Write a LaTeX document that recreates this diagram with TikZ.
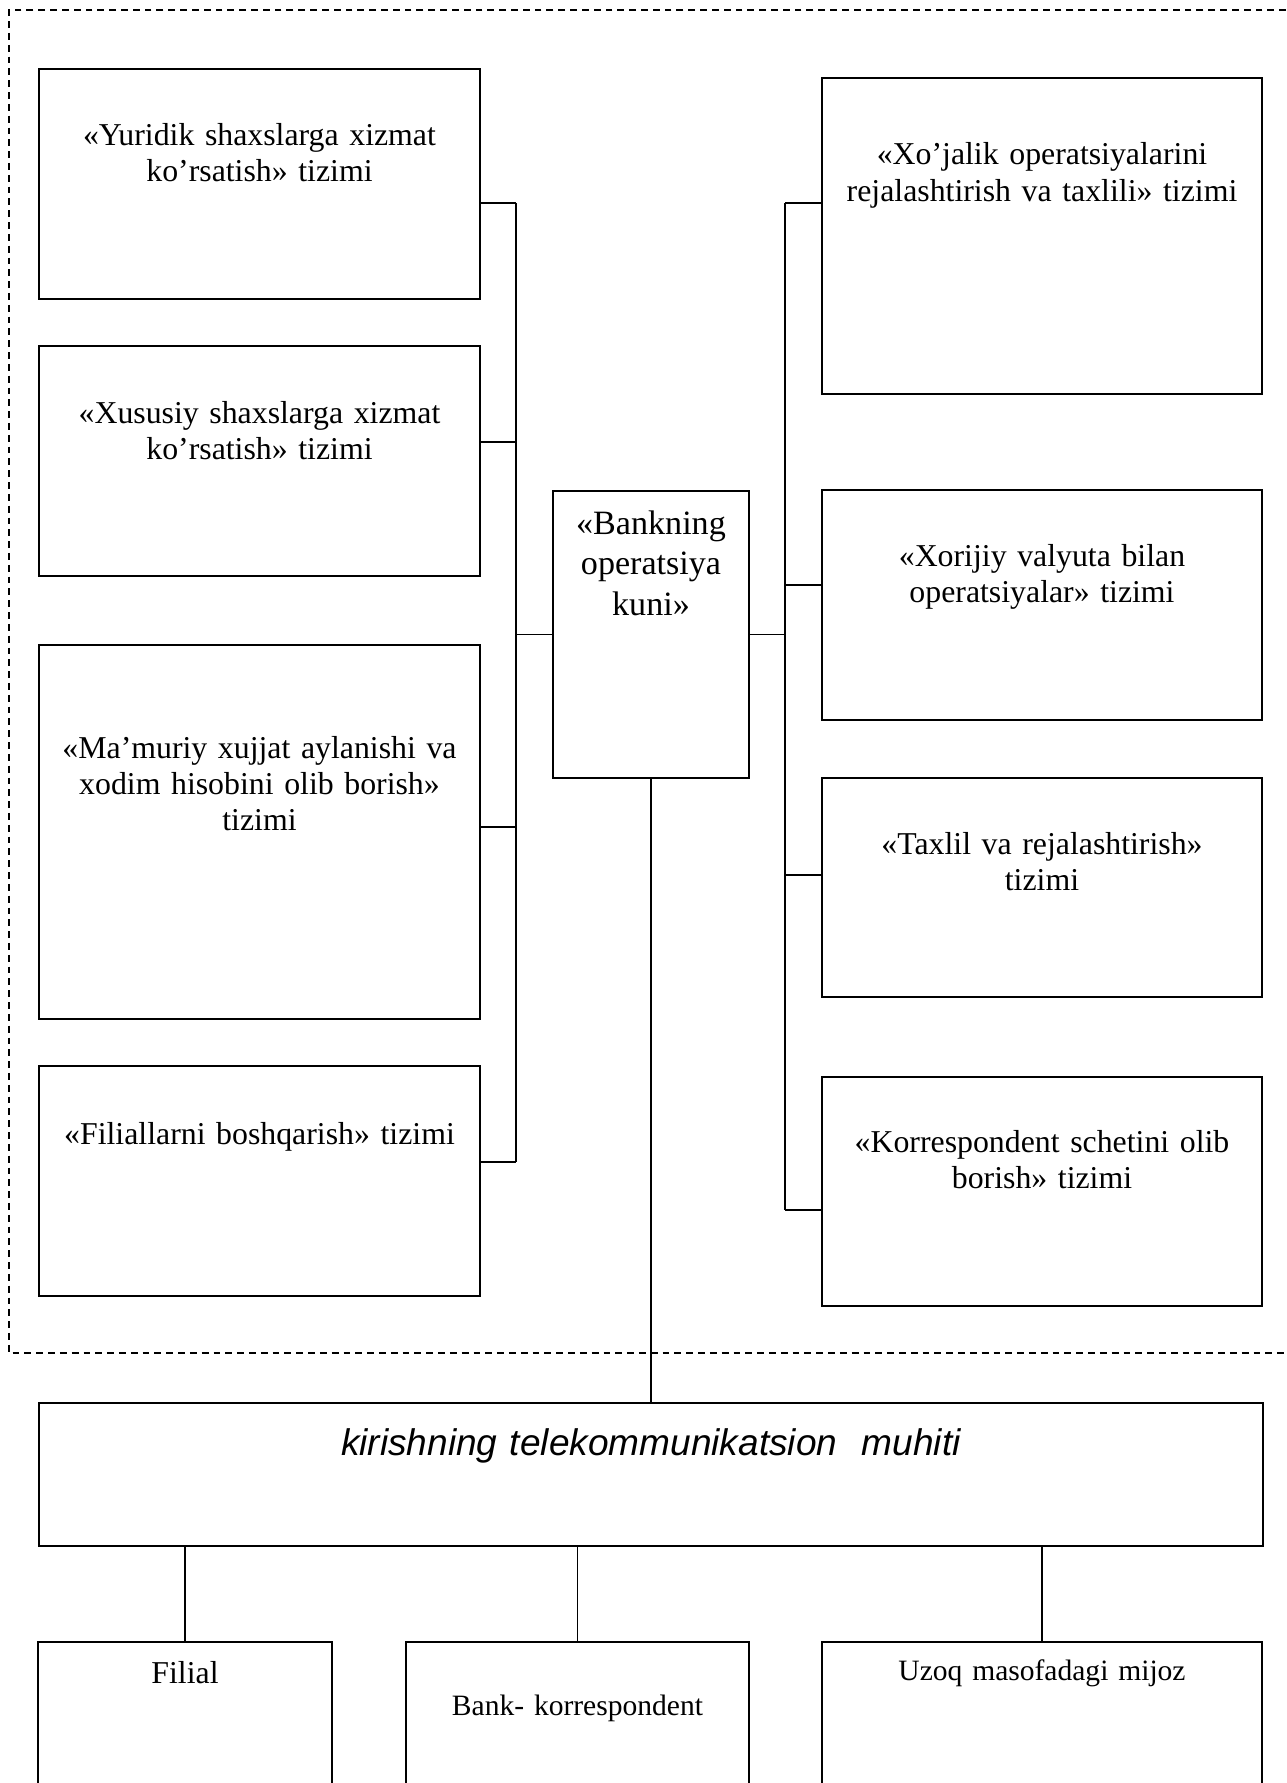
\documentclass[tikz,border=0pt]{standalone}
\usepackage{fontspec}
\setmainfont{Liberation Serif}
\newfontfamily\arialfont{Liberation Sans}
\usetikzlibrary{positioning}

\begin{document}
\begin{tikzpicture}[
      x=0.44pt, y=-0.44pt,
      sysbox/.style={draw, line width=0.9pt, inner sep=0pt, minimum width=194pt, minimum height=101.2pt},
      txt/.style={inner sep=0pt, anchor=base, align=center, text width=190pt, font=\fontsize{14}{16}\selectfont},
      link/.style={line width=0.6pt},
      frame/.style={line width=0.5pt, dash pattern=on 3pt off 2.2pt}
  ]
      \path[use as bounding box, clip] (0,0) rectangle (1286,1783);

      \draw[frame] (1286,10) -- (9,10) -- (9,1353) -- (1286,1353);

      % left column
      \node[sysbox] (yur) at (259.5,184) {};
      \node[sysbox] (xus) at (259.5,461) {};
      \node[sysbox, minimum height=164.6pt] (mam) at (259.5,832) {};
      \node[sysbox] (fil) at (259.5,1181) {};

      % right column
      \node[sysbox, minimum height=139pt] (xoj) at (1042,236) {};
      \node[sysbox] (xor) at (1042,605) {};
      \node[sysbox, minimum height=96.4pt] (tax) at (1042,887.5) {};
      \node[sysbox, minimum height=100.8pt] (kor) at (1042,1191.5) {};

      \node[sysbox, minimum width=86.2pt, minimum height=126.3pt] (bank) at (651,634.5) {};
      \node[sysbox, minimum width=538.8pt, minimum height=62.9pt] (tele) at (651,1474.5) {};

      \node[sysbox, minimum width=129.1pt, minimum height=88pt] (filial) at (185,1742) {};
      \node[sysbox, minimum width=150.9pt, minimum height=88pt] (bkor) at (577.5,1742) {};
      \node[sysbox, minimum width=194pt, minimum height=88pt] (uzoq) at (1042,1742) {};

      \node[txt] (yurT) at (259.5,145.5) {«Yuridik shaxslarga xizmat\\ko’rsatish» tizimi};
      \node[txt] (xusT) at (259.5,423) {«Xususiy shaxslarga xizmat\\ko’rsatish» tizimi};
      \node[txt] (mamT) at (259.5,758) {«Ma’muriy xujjat aylanishi va\\xodim hisobini olib borish»\\tizimi};
      \node[txt] (filT) at (259.5,1144) {«Filiallarni boshqarish» tizimi};
      \node[txt] (xojT) at (1042,165) {«Xo’jalik operatsiyalarini\\rejalashtirish va taxlili» tizimi};
      \node[txt] (xorT) at (1042,566) {«Xorijiy valyuta bilan\\operatsiyalar» tizimi};
      \node[txt] (taxT) at (1042,854) {«Taxlil va rejalashtirish»\\tizimi};
      \node[txt] (korT) at (1042,1152) {«Korrespondent schetini olib\\borish» tizimi};
      \node[txt, text width=80pt, font=\fontsize{15}{18}\selectfont] (bankT) at (651,534) {«Bankning\\operatsiya\\kuni»};
      \node[txt, text width=500pt, font=\arialfont\itshape\fontsize{16.3}{19}\selectfont] (teleT) at (651,1455) {kirishning telekommunikatsion~ muhiti};
      \node[txt, text width=120pt] (filialT) at (185,1683) {Filial};
      \node[txt, text width=145pt, font=\fontsize{13}{15}\selectfont] (bkorT) at (577.5,1715) {Bank- korrespondent};
      \node[txt, font=\fontsize{13}{15}\selectfont] (uzoqT) at (1042,1680) {Uzoq masofadagi mijoz};

      \coordinate (l1) at (516,203);
      \coordinate (l2) at (516,442);
      \coordinate (l3) at (516,827);
      \coordinate (l4) at (516,1162);
      \coordinate (r1) at (785,203);
      \coordinate (r2) at (785,585);
      \coordinate (r3) at (785,875);
      \coordinate (r4) at (785,1210);

      \draw[link] (yur.east |- l1) -- (l1);
      \draw[link] (xus.east |- l2) -- (l2);
      \draw[link] (mam.east |- l3) -- (l3);
      \draw[link] (fil.east |- l4) -- (l4);
      \draw[link] (l1) -- (l4);
      \draw[link] (bank.west) -- (bank.west -| l1);

      \draw[link] (r1) -- (xoj.west |- r1);
      \draw[link] (r2) -- (xor.west |- r2);
      \draw[link] (r3) -- (tax.west |- r3);
      \draw[link] (r4) -- (kor.west |- r4);
      \draw[link] (r1) -- (r4);
      \draw[link] (bank.east) -- (bank.east -| r1);

      \draw[link] (bank.south) -- (tele.north);
      \draw[link] (tele.south -| filial.north) -- (filial.north);
      \draw[link] (tele.south -| bkor.north) -- (bkor.north);
      \draw[link] (tele.south -| uzoq.north) -- (uzoq.north);
  \end{tikzpicture}
\end{document}
